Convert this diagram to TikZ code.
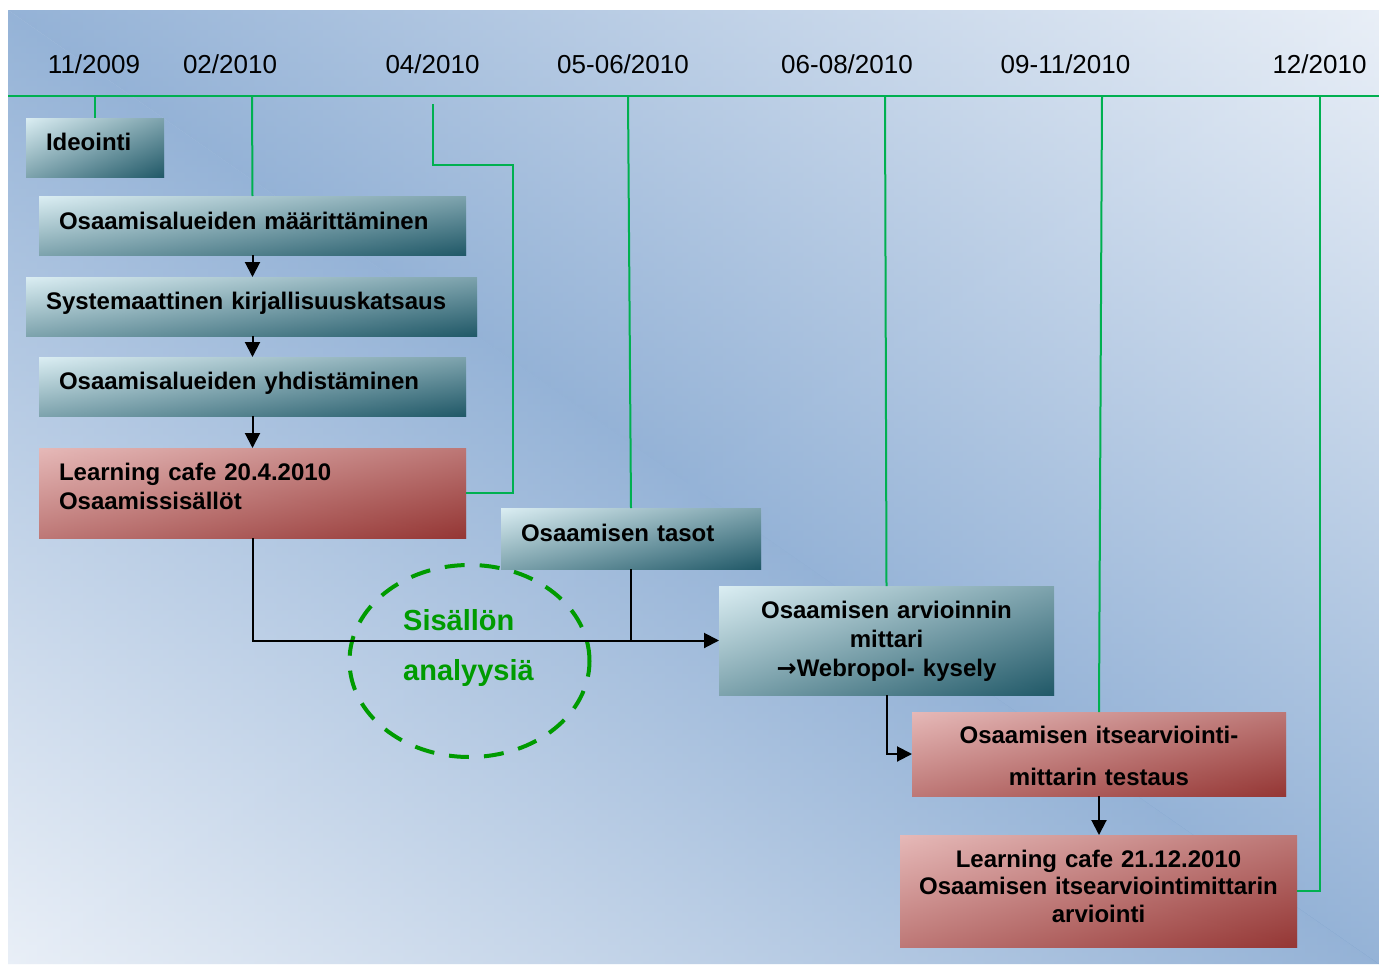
\documentclass[tikz,border=0pt]{standalone}
\usepackage{fontspec}
\setmainfont{Liberation Sans}
\newfontfamily\arrowfont{DejaVu Sans}
\usepackage{tikz}
\usetikzlibrary{arrows.meta}
\definecolor{bgblue}{RGB}{149,179,215}
\definecolor{bglight}{RGB}{233,239,247}
\definecolor{bgdeep}{RGB}{65,119,183}
\definecolor{teallight}{RGB}{219,238,243}
\definecolor{tealdark}{RGB}{33,89,104}
\definecolor{redlight}{RGB}{230,185,184}
\definecolor{reddark}{RGB}{149,55,53}
\definecolor{tickgreen}{RGB}{0,176,80}
\definecolor{ringgreen}{RGB}{0,155,0}
\tikzset{box/.style={rectangle, inner xsep=20pt, inner ysep=0pt, outer sep=0pt, align=left,
      font=\fontsize{24}{29}\selectfont\bfseries}}
\tikzset{tealbox/.style={box, top color=teallight, bottom color=tealdark,
      postaction={left color=teallight, right color=tealdark, fill opacity=0.5}}}
\tikzset{redbox/.style={box, top color=redlight, bottom color=reddark,
      postaction={left color=redlight, right color=reddark, fill opacity=0.5}}}
\tikzset{tick/.style={draw=tickgreen, line width=2pt}}
\tikzset{flow/.style={line width=2pt, -{Triangle[length=15pt,width=15pt]}}}
\tikzset{date/.style={anchor=base, inner sep=0pt, font=\fontsize{26}{30}\selectfont}}
\tikzset{ring/.style={draw=ringgreen, line width=4pt, dash pattern=on 20pt off 15pt}}

\begin{document}
\begin{tikzpicture}[x=1pt,y=-1pt]
		\useasboundingbox (0,0) rectangle (1379,964);
		\fill[bgblue] (8,10) rectangle (1379,964);
		\begin{scope}
			\clip (8,10) -- (1379,964) -- (8,964) -- cycle;
			\shade[top color=bgdeep, bottom color=bglight] (8,10) rectangle (1379,964);
			\shade[left color=bglight, right color=bgdeep, fill opacity=0.5] (8,10) rectangle (1379,964);
		\end{scope}
		\begin{scope}
			\clip (8,10) -- (1379,964) -- (1379,10) -- cycle;
			\shade[top color=bglight, bottom color=bgdeep] (8,10) rectangle (1379,964);
			\shade[left color=bgdeep, right color=bglight, fill opacity=0.5] (8,10) rectangle (1379,964);
		\end{scope}
		\node[date] (d1) at (94,73) {11/2009};
		\node[date] (d2) at (230,73) {02/2010};
		\node[date] (d3) at (432.5,73) {04/2010};
		\node[date] (d4) at (623,73) {05-06/2010};
		\node[date] (d5) at (847,73) {06-08/2010};
		\node[date] (d6) at (1065.5,73) {09-11/2010};
		\node[date] (d7) at (1319.5,73) {12/2010};
		\coordinate (tlw) at (8,96);
		\coordinate (tle) at (1379,96);
		\draw[tick] (tlw) -- (tle);
		\node[tealbox, text width=98pt, text height=32pt, text depth=27pt, anchor=base west] (ideo) at (26,150) {Ideointi};
		\node[tealbox, text width=387pt, text height=33pt, text depth=26pt, anchor=base west] (maar) at (39,229) {Osaamisalueiden määrittäminen};
		\node[tealbox, text width=411pt, text height=32pt, text depth=27pt, anchor=base west] (kirj) at (26,309) {Systemaattinen kirjallisuuskatsaus};
		\node[tealbox, text width=387pt, text height=32pt, text depth=27pt, anchor=base west] (yhd) at (39,389) {Osaamisalueiden yhdistäminen};
		\node[redbox, text width=387pt, text height=32.5pt, text depth=57.5pt, anchor=base west] (cafe1) at (39,480.5) {Learning cafe 20.4.2010\\Osaamissisällöt};
		\node[tealbox, text width=220pt, text height=33pt, text depth=28pt, anchor=base west] (tasot) at (501,541) {Osaamisen tasot};
		\node[tealbox, inner xsep=0pt, text width=335pt, align=center, text height=32pt, text depth=77pt, anchor=base] (mittari) at (886.5,618) {Osaamisen arvioinnin\\mittari\\{\arrowfont →}Webropol- kysely};
		\node[redbox, inner xsep=0pt, text width=374pt, align=center, text height=31pt, text depth=53pt, anchor=base,
			font=\fontsize{24}{42}\selectfont\bfseries] (testaus) at (1099,743) {Osaamisen itsearviointi-\\mittarin testaus};
		\node[redbox, inner xsep=0pt, text width=397pt, align=center, text height=32pt, text depth=80pt, anchor=base,
			font=\fontsize{24}{27.5}\selectfont\bfseries] (cafe2) at (1098.5,867) {Learning cafe 21.12.2010\\Osaamisen itsearviointimittarin\\arviointi};
		\coordinate (t1) at (95,96);
		\coordinate (t2) at (252,96);
		\coordinate (t3) at (433,104);
		\coordinate (k3) at (513,165);
		\coordinate (t4) at (628,96);
		\coordinate (t5) at (885,96);
		\coordinate (t6) at (1102,96);
		\coordinate (t7) at (1320,96);
		\draw[tick] (t1) -- (ideo.north);
		\draw[tick] (t2) -- (maar.north);
		\draw[tick] (t3) |- (k3) |- (cafe1.east);
		\draw[tick] (t4) -- (tasot.north);
		\draw[tick] (t5) -- (mittari.north);
		\draw[tick] (t6) -- (testaus.north);
		\draw[tick] (t7) |- (cafe2.east);
		\draw[ring] (469.5,661) ellipse [x radius=120pt, y radius=96pt];
		\node[anchor=base west, inner sep=0pt, align=left, text=ringgreen,
			font=\fontsize{29}{50}\selectfont\bfseries] (ana) at (403,680) {Sisällön\\analyysiä};
		\draw[flow] (maar.south) -- (maar.south |- kirj.north);
		\draw[flow] (kirj.south -| maar.south) -- (yhd.north);
		\draw[flow] (yhd.south) -- (cafe1.north);
		\draw[flow] (cafe1.south) |- (mittari.west);
		\draw[line width=2pt] (tasot.south) -- (tasot.south |- mittari.west);
		\draw[flow] (mittari.south) |- (testaus.west);
		\draw[flow] (testaus.south) -- (testaus.south |- cafe2.north);
\end{tikzpicture}
\end{document}
